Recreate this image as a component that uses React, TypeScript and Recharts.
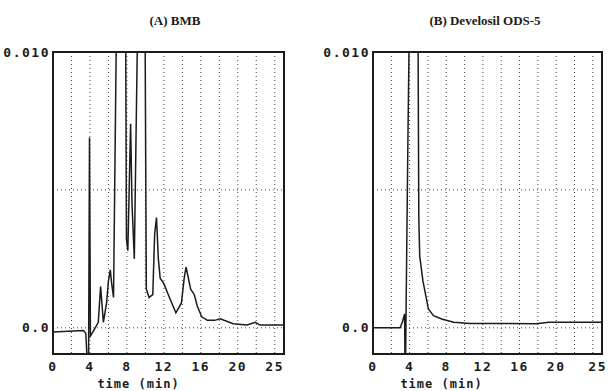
import { LineChart, Line, XAxis, YAxis, CartesianGrid, ReferenceArea } from "recharts"

// (A) BMB trace, time in min and absorbance; values above 0.010 run off the top of the plot
const timeA = [
    0, 3.3, 3.55, 3.7, 3.85, 3.95, 4.05, 4.4, 4.9, 5.15, 5.45, 5.8, 6.0, 6.2, 6.35, 6.55, 6.9, 7.85,
    7.95, 8.1, 8.4, 8.55, 8.8, 9.2, 9.95, 10.1, 10.4, 10.8, 11.0, 11.2, 11.4, 11.6, 12.0, 12.6, 13.3,
    13.9, 14.2, 14.4, 14.9, 15.3, 15.6, 16.1, 16.7, 17.5, 18.1, 19.5, 21.0, 21.9, 22.4, 25,
]
const absA = [
    -0.00015, -0.0001, -0.0002, -0.0012, -0.0012, 0.0069, -0.0003, -0.0001, 0.0002, 0.0015, 0.0002,
    0.0009, 0.0017, 0.0021, 0.0016, 0.0011, 0.012, 0.012, 0.0032, 0.0028, 0.0074, 0.0045, 0.0025,
    0.012, 0.012, 0.0014, 0.0011, 0.0012, 0.0034, 0.004, 0.0025, 0.0018, 0.0016, 0.0011, 0.00054,
    0.0009, 0.0018, 0.0022, 0.0014, 0.0012, 0.0008, 0.0004, 0.00027, 0.00027, 0.00033, 0.00015, 0.0001,
    0.0002, 0.0001, 0.0001,
]

// (B) Develosil ODS-5 trace
const timeB = [
    0, 2.95, 3.2, 3.45, 3.5, 3.55, 3.6, 3.8, 4.0, 4.9, 5.0, 5.1, 5.45, 5.8, 6.05, 6.6, 7.5, 8.8, 10.6,
    13.5, 17.8, 19.2, 24.3, 25,
]
const absB = [
    0.0, 0.0, 0.0002, 0.0005, -0.0015, -0.0015, 0.0003, 0.0065, 0.012, 0.012, 0.004, 0.0026, 0.0017,
    0.0011, 0.00068, 0.00044, 0.00032, 0.0002, 0.00016, 0.00016, 0.00015, 0.0002, 0.0002, 0.0002,
]

const timeTicks = [0, 4, 8, 12, 16, 20, 25]
const gridTimes = [2, 4, 6, 8, 10, 12, 14, 16, 18, 20, 22, 24]
const absTicks = [0, 0.01]
const gridAbs = [0, 0.005]

const ink = "#1b1b1b"
const tickFont = { fontFamily: "DejaVu Sans Mono", fontWeight: 700, fontSize: 13, letterSpacing: 1.5, fill: ink }

function toRows(t: number[], v: number[]) {
    return t.map((time, i) => ({ time, abs: v[i] }))
}

// the last label (25) sits flush with the right edge of the box, like the recorder print
function TimeTick({ x, y, payload, lastDx }: any) {
    const last = payload.value === 25
    return (
        <text
            x={x + (last ? lastDx : 0)}
            y={y}
            dy={10}
            textAnchor={last ? "end" : "middle"}
            style={tickFont}
        >
            {payload.value}
        </text>
    )
}

type PanelProps = {
    rows: { time: number; abs: number }[]
    width: number
    rightMargin: number
    yMin: number
    labelDx: number
    lastDx: number
}

function Panel({ rows, width, rightMargin, yMin, labelDx, lastDx }: PanelProps) {
    return (
        <LineChart
            width={width}
            height={391}
            data={rows}
            margin={{ top: 52, right: rightMargin, bottom: 0, left: 0 }}
        >
            <CartesianGrid
                stroke="#444"
                strokeDasharray="1 3"
                verticalValues={gridTimes}
                horizontalValues={gridAbs}
            />
            <XAxis
                dataKey="time"
                type="number"
                domain={[0, 25]}
                ticks={timeTicks}
                allowDataOverflow
                height={37}
                axisLine={false}
                tickLine={false}
                tickSize={4}
                tickMargin={3}
                tick={(p: any) => <TimeTick {...p} lastDx={lastDx} />}
                interval={0}
                label={{
                    value: "time (min)",
                    position: "insideBottom",
                    offset: 3,
                    dx: labelDx,
                    style: { ...tickFont, fontSize: 12, letterSpacing: 1 },
                }}
            />
            <YAxis
                type="number"
                domain={[yMin, 0.01]}
                ticks={absTicks}
                allowDataOverflow
                width={53}
                axisLine={false}
                tickLine={false}
                tickSize={1}
                tickMargin={2}
                tick={tickFont}
                interval={0}
                tickFormatter={(v: number) => (v === 0 ? "0.0" : "0.010")}
            />
            <ReferenceArea
                x1={0}
                x2={25}
                y1={yMin}
                y2={0.01}
                fill="none"
                fillOpacity={0}
                stroke={ink}
                strokeWidth={2}
            />
            <Line
                dataKey="abs"
                type="linear"
                stroke={ink}
                strokeWidth={1.5}
                dot={false}
                isAnimationActive={false}
            />
        </LineChart>
    )
}

const titleStyle = {
    position: "absolute" as const,
    top: 13,
    fontFamily: "Liberation Serif",
    fontWeight: 700,
    fontSize: 13,
    color: ink,
    textAlign: "center" as const,
}

export default function App() {
    return (
        <div style={{ position: "absolute", left: 0, top: 0, width: 608, height: 391, background: "#fff" }}>
            <div style={{ ...titleStyle, left: 75, width: 200 }}>(A) BMB</div>
            <div style={{ ...titleStyle, left: 385, width: 200 }}>(B) Develosil ODS-5</div>
            <div style={{ position: "absolute", left: 0, top: 0 }}>
                <Panel
                    rows={toRows(timeA, absA)}
                    width={300}
                    rightMargin={16}
                    yMin={-0.00095}
                    labelDx={-30}
                    lastDx={0}
                />
            </div>
            <div style={{ position: "absolute", left: 320, top: 0 }}>
                <Panel
                    rows={toRows(timeB, absB)}
                    width={288}
                    rightMargin={6}
                    yMin={-0.00095}
                    labelDx={-46}
                    lastDx={5}
                />
            </div>
        </div>
    )
}
